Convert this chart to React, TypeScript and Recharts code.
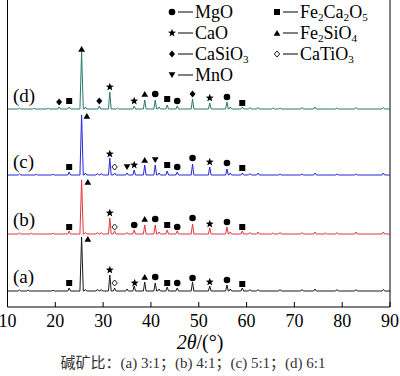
import React from 'react';
import { ComposedChart, Line, Scatter, XAxis, YAxis, ReferenceLine } from 'recharts';

type Phase = 'MgO' | 'CaO' | 'CaSiO3' | 'MnO' | 'Fe2Ca2O5' | 'Fe2SiO4' | 'CaTiO3';

const xTicks = [10, 20, 30, 40, 50, 60, 70, 80, 90];

// vertical offset of each pattern (stacked plot)
const offsets = { a: 16, b: 73, c: 132, d: 198 };

// [2theta, peak height]
const peaksA: [number, number][] = [
  [12.5, 1], [14.3, 1], [19.5, 0.8], [22.9, 3], [25.5, 54], [26.3, 1.5], [28.8, 1.5], [29.6, 1.5],
  [31.4, 16], [32.4, 3], [35.0, 2], [36.5, 5], [38.7, 9], [40.9, 8], [41.7, 2], [43.4, 4],
  [45.5, 3], [48.7, 9], [52.3, 5], [55.9, 6], [56.6, 2], [59.1, 3], [60.7, 1.5], [62.4, 1.5],
  [67.0, 1.5], [71.6, 1.5], [74.3, 2], [78.9, 1.5], [82.9, 1.5], [88.6, 1.5],
];
const peaksB: [number, number][] = [
  [12.5, 1], [15.0, 0.8], [19.5, 0.8], [22.9, 3], [25.5, 54], [26.3, 1.5], [28.8, 1.5], [29.6, 1.5],
  [31.4, 16], [32.4, 3], [35.0, 1.5], [36.5, 4], [38.7, 9], [40.9, 9], [41.7, 2], [43.4, 4],
  [45.5, 3], [48.7, 10], [52.3, 6], [55.9, 7], [56.6, 2], [59.1, 3], [60.7, 1.5], [62.4, 2],
  [65.5, 1], [67.0, 1.5], [71.6, 1.5], [74.3, 2], [76.5, 1], [78.9, 1.5], [82.9, 2], [88.6, 2],
];
const peaksC: [number, number][] = [
  [12.5, 1], [16.0, 0.8], [19.5, 0.8], [22.9, 3], [25.5, 60], [26.3, 2], [28.8, 1.5], [29.6, 1.5],
  [31.4, 17], [32.4, 2], [35.0, 2], [36.5, 5], [38.7, 10], [40.9, 10], [41.7, 2], [43.4, 4],
  [45.5, 3], [48.7, 11], [52.3, 8], [55.9, 6], [56.6, 2], [59.1, 2], [60.7, 1.5], [62.4, 2],
  [67.0, 1], [71.6, 1], [74.3, 2], [78.9, 1], [82.9, 1], [88.6, 2],
];
const peaksD: [number, number][] = [
  [12.5, 1], [15.5, 0.8], [18.5, 0.8], [20.8, 2], [22.9, 2], [25.5, 57], [26.3, 2], [29.2, 3],
  [31.4, 17], [33.0, 1], [36.5, 3], [38.7, 9], [40.9, 9], [41.7, 2], [43.4, 4], [45.5, 3],
  [48.7, 10], [52.3, 6], [55.9, 7], [56.6, 2], [59.1, 2], [60.7, 1.5], [62.4, 1.5], [65.5, 1],
  [67.0, 1], [71.6, 1.5], [74.3, 2], [78.9, 1], [82.9, 1.5], [88.6, 1.5],
];

// [phase, 2theta, marker height above baseline]
const marksA: [Phase, number, number][] = [
  ['Fe2Ca2O5', 22.9, 8], ['Fe2SiO4', 26.8, 52], ['CaO', 31.4, 21], ['CaTiO3', 32.4, 8],
  ['CaO', 36.6, 8], ['Fe2SiO4', 38.7, 14], ['MgO', 40.9, 14], ['Fe2Ca2O5', 43.4, 8],
  ['MgO', 45.5, 8], ['MgO', 48.7, 13], ['CaO', 52.3, 9], ['MgO', 55.9, 11], ['Fe2Ca2O5', 59.1, 7],
];
const marksB: [Phase, number, number][] = [
  ['Fe2Ca2O5', 22.9, 7], ['Fe2SiO4', 26.8, 52], ['CaO', 31.4, 21], ['CaTiO3', 32.4, 7],
  ['MgO', 36.5, 9], ['Fe2SiO4', 38.7, 15], ['MgO', 40.9, 15], ['Fe2Ca2O5', 43.4, 9],
  ['MgO', 45.5, 7], ['MgO', 48.7, 16], ['CaO', 52.3, 10], ['MgO', 55.9, 12], ['Fe2Ca2O5', 59.1, 7],
];
const marksC: [Phase, number, number][] = [
  ['Fe2Ca2O5', 22.9, 8], ['Fe2SiO4', 26.6, 59], ['CaO', 31.4, 21], ['CaTiO3', 32.4, 8],
  ['MnO', 35.0, 8], ['CaO', 36.5, 10], ['Fe2SiO4', 38.7, 15], ['MnO', 40.9, 15],
  ['Fe2Ca2O5', 43.4, 10], ['MgO', 45.5, 8], ['MgO', 48.7, 17], ['CaO', 52.3, 13],
  ['MgO', 55.9, 12], ['Fe2Ca2O5', 59.1, 7],
];
const marksD: [Phase, number, number][] = [
  ['CaSiO3', 20.8, 7], ['Fe2Ca2O5', 22.9, 8], ['Fe2SiO4', 25.5, 60], ['CaSiO3', 29.2, 8],
  ['CaO', 31.4, 22], ['CaO', 36.5, 8], ['Fe2SiO4', 38.7, 15], ['MgO', 40.9, 15],
  ['Fe2Ca2O5', 43.4, 10], ['MgO', 45.5, 8], ['CaSiO3', 48.7, 15], ['CaO', 52.3, 11],
  ['MgO', 55.9, 12], ['Fe2Ca2O5', 59.1, 6],
];

const sampleLabels = ['(a)', '(b)', '(c)', '(d)'];
const sampleColors = ['#1a1a1a', '#e3343a', '#2626d9', '#2a7a6c'];

const serif = '"Liberation Serif", "Times New Roman", serif';

function toSeries(peaks: [number, number][], offset: number) {
  const pts = [{ x: 10, y: offset }];
  peaks.forEach(([p, h]) => {
    const w = h > 30 ? 0.35 : 0.28;
    pts.push({ x: p - w, y: offset }, { x: p, y: offset + h }, { x: p + w, y: offset });
  });
  pts.push({ x: 90, y: offset });
  return pts;
}

function toMarks(marks: [Phase, number, number][], offset: number) {
  return marks.map(([kind, x, h]) => ({ kind, x, y: offset + h }));
}

function starPath(cx: number, cy: number, r: number) {
  let d = '';
  for (let i = 0; i < 10; i++) {
    const rr = i % 2 === 0 ? r : r * 0.42;
    const a = -Math.PI / 2 + (i * Math.PI) / 5;
    d += (i === 0 ? 'M' : 'L') + (cx + rr * Math.cos(a)).toFixed(2) + ',' + (cy + rr * Math.sin(a)).toFixed(2);
  }
  return d + 'Z';
}

function PhaseMark({ cx, cy, kind }: { cx: number; cy: number; kind: Phase }) {
  switch (kind) {
    case 'MgO':
      return <circle cx={cx} cy={cy} r={3.3} fill="#000" />;
    case 'CaO':
      return <path d={starPath(cx, cy, 4.2)} fill="#000" />;
    case 'CaSiO3':
      return <path d={`M${cx},${cy - 3.4}L${cx + 3},${cy}L${cx},${cy + 3.4}L${cx - 3},${cy}Z`} fill="#000" />;
    case 'MnO':
      return <path d={`M${cx - 3.4},${cy - 2.8}L${cx + 3.4},${cy - 2.8}L${cx},${cy + 3}Z`} fill="#000" />;
    case 'Fe2Ca2O5':
      return <rect x={cx - 3} y={cy - 3} width={6} height={6} fill="#000" />;
    case 'Fe2SiO4':
      return <path d={`M${cx - 3.4},${cy + 2.8}L${cx + 3.4},${cy + 2.8}L${cx},${cy - 3}Z`} fill="#000" />;
    case 'CaTiO3':
      return (
        <path d={`M${cx},${cy - 3}L${cx + 2.7},${cy}L${cx},${cy + 3}L${cx - 2.7},${cy}Z`} fill="#fff" stroke="#000" strokeWidth={0.9} />
      );
  }
  return null;
}

// chemical formula with subscript digits
function Formula({ x, y, text, size }: { x: number; y: number; text: string; size: number }) {
  const parts = text.split(/(\d)/).filter((s) => s !== '');
  let shifted = false;
  return (
    <text x={x} y={y} fontFamily={serif} fontSize={size} fill="#000">
      {parts.map((p, i) => {
        const isSub = /\d/.test(p);
        const dy = isSub && !shifted ? 3 : !isSub && shifted ? -3 : 0;
        shifted = isSub;
        return (
          <tspan key={i} dy={dy} fontSize={isSub ? size * 0.62 : size}>
            {p}
          </tspan>
        );
      })}
    </text>
  );
}

const legendCol1: Phase[] = ['MgO', 'CaO', 'CaSiO3', 'MnO'];
const legendCol2: Phase[] = ['Fe2Ca2O5', 'Fe2SiO4', 'CaTiO3'];
const legendRows = [12, 33, 54, 75];

function Legend() {
  const col = (items: Phase[], mx: number) =>
    items.map((k, i) => (
      <g key={k}>
        <PhaseMark cx={mx} cy={legendRows[i]} kind={k} />
        <line x1={mx + 6} x2={mx + 21} y1={legendRows[i]} y2={legendRows[i]} stroke="#000" strokeWidth={1} />
        <Formula x={mx + 23} y={legendRows[i] + 6} text={k} size={18} />
      </g>
    ));
  return (
    <g>
      {col(legendCol1, 172)}
      {col(legendCol2, 277)}
    </g>
  );
}

const labelBaselines = [283, 226, 168, 102];

export default function App() {
  const series = [
    toSeries(peaksA, offsets.a),
    toSeries(peaksB, offsets.b),
    toSeries(peaksC, offsets.c),
    toSeries(peaksD, offsets.d),
  ];
  const marks = [
    toMarks(marksA, offsets.a),
    toMarks(marksB, offsets.b),
    toMarks(marksC, offsets.c),
    toMarks(marksD, offsets.d),
  ];

  const renderTick = (p: any) => (
    <g>
      <line x1={p.x} x2={p.x} y1={p.y - 5} y2={p.y} stroke="#000" strokeWidth={1} />
      <text x={p.x} y={p.y + 20} textAnchor="middle" fontFamily={serif} fontSize={18} fill="#000">
        {p.payload.value}
      </text>
    </g>
  );

  return (
    <div style={{ position: 'absolute', left: 0, top: 0, width: 400, height: 376, background: '#fff' }}>
      <ComposedChart width={400} height={376} margin={{ top: 0, right: 10, left: 7.5, bottom: 39 }}>
        <XAxis
          dataKey="x"
          type="number"
          domain={[10, 90]}
          ticks={xTicks}
          interval={0}
          allowDataOverflow
          height={30}
          tickLine={false}
          tickSize={0}
          tickMargin={0}
          axisLine={{ stroke: '#000', strokeWidth: 1 }}
          tick={renderTick}
        />
        <YAxis type="number" domain={[0, 307]} hide allowDataOverflow />
        <ReferenceLine x={10} stroke="#000" strokeWidth={1} />
        <ReferenceLine x={90} stroke="#000" strokeWidth={1} />
        {series.map((d, i) => (
          <Line
            key={sampleLabels[i]}
            data={d}
            dataKey="y"
            type="linear"
            stroke={sampleColors[i]}
            strokeWidth={1}
            dot={false}
            isAnimationActive={false}
          />
        ))}
        {marks.map((d, i) => (
          <Scatter
            key={'m' + sampleLabels[i]}
            data={d}
            dataKey="y"
            isAnimationActive={false}
            shape={(p: any) => <PhaseMark cx={p.cx} cy={p.cy} kind={p.payload.kind} />}
          />
        ))}
      </ComposedChart>
      <svg width={400} height={376} style={{ position: 'absolute', left: 0, top: 0, pointerEvents: 'none' }}>
        <Legend />
        {sampleLabels.map((l, i) => (
          <text key={l} x={13} y={labelBaselines[i]} fontFamily={serif} fontSize={19} fill="#000">
            {l}
          </text>
        ))}
        <text x={200} y={349} textAnchor="middle" fontFamily={serif} fontSize={20} fill="#000">
          <tspan fontStyle="italic">2θ</tspan>/(°)
        </text>
        <text
          x={193}
          y={368}
          textAnchor="middle"
          fontFamily={'"Liberation Serif", "Noto Sans CJK SC", serif'}
          fontSize={15}
          fill="#333"
        >
          碱矿比：(a) 3:1；(b) 4:1；(c) 5:1；(d) 6:1
        </text>
      </svg>
    </div>
  );
}
